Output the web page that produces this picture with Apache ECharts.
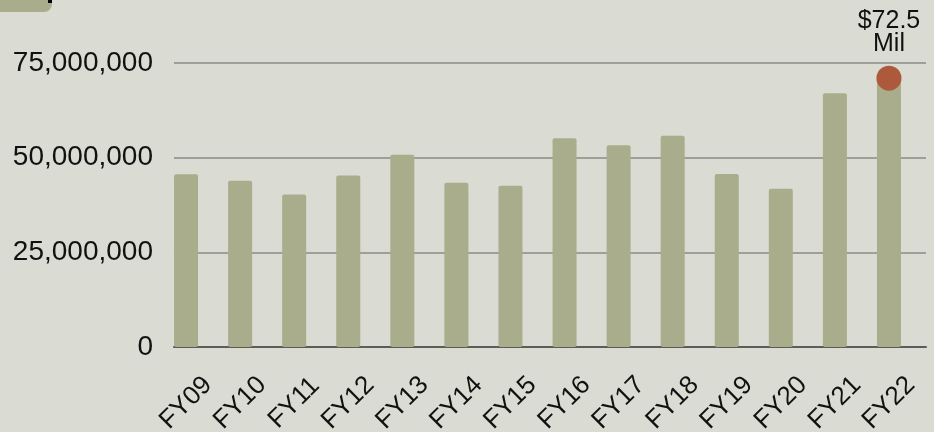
<!DOCTYPE html>
<html>
<head>
<meta charset="utf-8">
<script src="https://cdn.jsdelivr.net/npm/echarts@6/dist/echarts.min.js"></script>
<style>
  html,body{margin:0;padding:0;background:#dadbd2;}
  #chart{width:934px;height:432px;}
</style>
</head>
<body>
<div id="chart"></div>
<script>
  // 数据
  var years = ['FY09','FY10','FY11','FY12','FY13','FY14','FY15','FY16','FY17','FY18','FY19','FY20','FY21','FY22'];
  var funding = [45.6e6,43.9e6,40.3e6,45.3e6,50.8e6,43.4e6,42.6e6,55.1e6,53.3e6,55.8e6,45.7e6,41.8e6,67.0e6,71.0e6];
  var yTicks = [0,25e6,50e6,75e6];
  var callout = {year:'FY22', value:71.0e6, text:'$72.5\nMil'};

  var chart = echarts.init(document.getElementById('chart'));
  var font = 'Liberation Sans';

  var option = {
    backgroundColor:'#dadbd2',
    textStyle:{fontFamily:font},
    graphic:[
      {type:'rect',left:-10,top:-10,shape:{width:62,height:22,r:8},style:{fill:'#a9ad8c'}},
      {type:'rect',left:48,top:0,shape:{width:4,height:3},style:{fill:'#000'}}
    ],
    grid:[
      {left:159,right:18,top:63,bottom:85,outerBoundsMode:'none'},   // bars
      {left:174,right:8,top:63,bottom:85,outerBoundsMode:'none'}     // gridlines + axis line
    ],
    xAxis:[
      {
        gridIndex:0,
        type:'category',
        data:years,
        axisLine:{show:false},
        axisTick:{show:false},
        axisLabel:{
          rotate:45,
          align:'center',
          verticalAlign:'middle',
          margin:56,
          fontSize:26,
          color:'#111'
        }
      },
      {
        gridIndex:1,
        type:'value',
        min:0,max:1,
        axisLine:{show:true,lineStyle:{color:'#5c5d57',width:2}},
        axisTick:{show:false},
        axisLabel:{show:false},
        splitLine:{show:false}
      }
    ],
    yAxis:[
      {
        gridIndex:0,
        type:'value',
        min:0,max:75e6,interval:25e6,
        show:false,
        splitLine:{show:false}
      },
      {
        gridIndex:1,
        type:'value',
        min:yTicks[0],max:yTicks[yTicks.length-1],interval:25e6,
        axisLine:{show:false},
        axisTick:{show:false},
        axisLabel:{
          margin:21,
          fontSize:28,
          color:'#111',
          formatter:function(v){return v.toLocaleString('en-US');}
        },
        splitLine:{lineStyle:{color:'#9e9f98',width:2}}
      }
    ],
    series:[
      {
        type:'bar',
        xAxisIndex:0,
        yAxisIndex:0,
        data:funding,
        barWidth:24,
        itemStyle:{color:'#a9ad8c',borderRadius:2},
        markPoint:{
          symbol:'circle',
          symbolSize:25,
          itemStyle:{color:'#ad5a3c'},
          label:{
            show:true,
            position:'top',
            distance:10,
            formatter:callout.text,
            fontSize:25,
            lineHeight:23,
            color:'#111',
            fontFamily:font
          },
          data:[{coord:[callout.year,callout.value]}]
        }
      }
    ]
  };
  chart.setOption(option);
</script>
</body>
</html>
